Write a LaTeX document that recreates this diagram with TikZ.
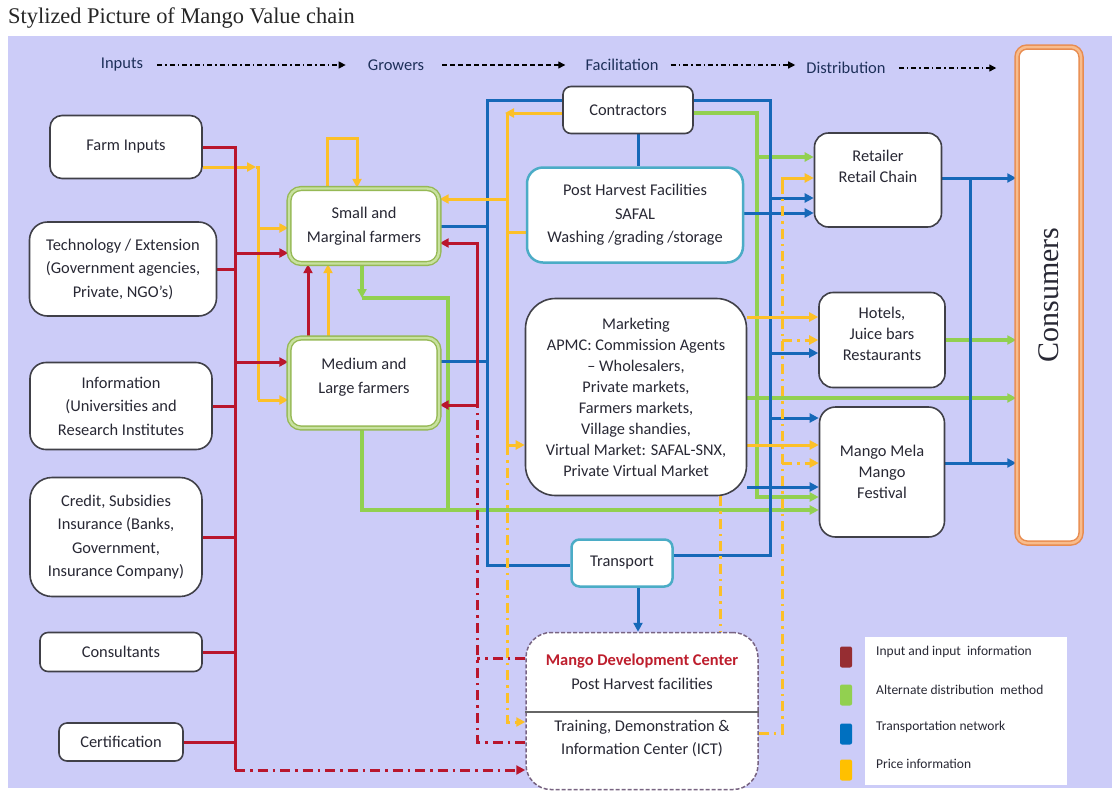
\documentclass[tikz,border=0pt]{standalone}
\usepackage{fontspec}
\setmainfont{Carlito}
\newfontfamily\seriffam{Liberation Serif}
\usetikzlibrary{arrows.meta}
\definecolor{bglav}{RGB}{204,204,248}
\definecolor{cred}{RGB}{185,22,45}
\definecolor{cgreen}{RGB}{146,208,80}
\definecolor{cblue}{RGB}{22,104,184}
\definecolor{cyel}{RGB}{252,192,40}
\definecolor{txt}{RGB}{40,40,52}
\definecolor{bord}{RGB}{64,64,72}
\definecolor{cteal}{RGB}{75,172,198}
\definecolor{farmg}{RGB}{150,185,85}
\definecolor{farmgl}{RGB}{200,225,160}
\definecolor{corange}{RGB}{232,140,80}
\definecolor{corangel}{RGB}{248,188,140}
\definecolor{navy}{RGB}{30,48,90}
\definecolor{mdcb}{RGB}{120,100,130}
\definecolor{mdcred}{RGB}{190,30,45}
\definecolor{legred}{RGB}{150,45,50}
\definecolor{legblue}{RGB}{0,112,192}
\definecolor{legyel}{RGB}{255,192,0}
\pgfdeclarelayer{back}
\pgfdeclarelayer{lines}
\pgfsetlayers{back,lines,main}
\begin{document}
\begin{tikzpicture}[x=1pt,y=-1pt,
  box/.style={draw=bord, line width=1.6pt, fill=white, rounded corners=12pt, align=center, text=txt, font=\fontsize{16.4}{23.5}\selectfont, inner sep=0pt},
  farmer/.style={box, draw=farmg, double=farmgl, line width=1.4pt, double distance=2.4pt},
  tealbox/.style={box, draw=cteal, line width=2.5pt},
  plain/.style={align=center, text=txt, inner sep=0pt},
  hdr/.style={text=navy, font=\fontsize{16.5}{19}\selectfont, inner sep=0pt},
  harr/.style={line width=1.3pt, -{Triangle[length=7pt,width=7pt]}},
  rl/.style={cred, line width=3pt},
  gl/.style={cgreen, line width=3.5pt},
  bl/.style={cblue, line width=3pt},
  yl/.style={cyel, line width=3pt},
  arr/.style={-{Triangle[length=9pt,width=9pt]}},
  dd/.style={dash pattern=on 10pt off 5pt on 2.5pt off 5pt},
  legtxt/.style={anchor=west, text=txt, font=\fontsize{13.5}{15}\selectfont, inner sep=0pt},
  sw/.style={rounded corners=2pt, minimum width=12pt, minimum height=21pt, inner sep=0pt}
]
\useasboundingbox (0,0) rectangle (1118,796);
\begin{pgfonlayer}{back}
\fill[white] (0,0) rectangle (1118,796);
\fill[bglav] (8,36) rectangle (1112,788);
\end{pgfonlayer}

% title
\node[anchor=west, font=\seriffam\fontsize{22.4}{25}\selectfont, text=black!85, inner sep=0pt] (title) at (8,18) {Stylized Picture of Mango Value chain};

% header
\node[hdr] (hin) at (122,65) {Inputs};
\node[hdr] (hgr) at (396,65) {Growers};
\node[hdr] (hfa) at (622,65) {Facilitation};
\node[hdr] (hdi) at (846,68) {Distribution};

% left column
\node[box, minimum width=152pt, minimum height=63pt] (farm) at (126,147) {Farm Inputs};
\node[box, rounded corners=18pt, minimum width=187pt, minimum height=94pt] (tech) at (123,269) {Technology / Extension\\(Government agencies,\\Private, NGO’s)};
\node[box, rounded corners=16pt, minimum width=182pt, minimum height=87pt] (info) at (121,406) {Information\\(Universities and\\Research Institutes};
\node[box, rounded corners=22pt, minimum width=172pt, minimum height=119pt] (credit) at (116,537) {Credit, Subsidies\\Insurance (Banks,\\Government,\\Insurance Company)};
\node[box, rounded corners=8pt, minimum width=162pt, minimum height=39pt] (consult) at (121,652) {Consultants};
\node[box, rounded corners=8pt, minimum width=124pt, minimum height=38pt] (cert) at (121,742) {Certification};

% growers
\node[farmer, minimum width=150pt, minimum height=75pt] (small) at (364,226) {Small and\\Marginal farmers};
\node[farmer, minimum width=150pt, minimum height=90pt] (medium) at (364,383) {};
\node[plain, font=\fontsize{16.4}{23.5}\selectfont] (mediumt) at (364,377) {Medium and\\Large farmers};

% facilitation
\node[box, rounded corners=8pt, minimum width=130pt, minimum height=47pt] (contr) at (628,110) {Contractors};
\node[tealbox, rounded corners=16pt, minimum width=216pt, minimum height=95pt] (ph) at (635,215) {Post Harvest Facilities\\SAFAL\\Washing /grading /storage};
\node[box, rounded corners=30pt, minimum width=221pt, minimum height=197pt, font=\fontsize{16.3}{21}\selectfont] (mkt) at (636,397) {Marketing\\APMC: Commission Agents\\– Wholesalers,\\Private markets,\\Farmers markets,\\Village shandies,\\Virtual Market: SAFAL-SNX,\\Private Virtual Market};
\node[tealbox, rounded corners=8pt, minimum width=101pt, minimum height=47pt] (trans) at (622,563) {Transport};
\node[box, draw=mdcb, line width=1.5pt, dash pattern=on 4pt off 2pt, rounded corners=25pt, minimum width=232pt, minimum height=157pt] (mdc) at (642,711) {};
\draw[black!60, line width=1.2pt] (mdc.west |- 0,712) -- (mdc.east |- 0,712);
\node[plain, font=\fontsize{16.4}{24}\selectfont] (mdct1) at (642,672) {\textcolor{mdcred}{\bfseries Mango Development Center}\\Post Harvest facilities};
\node[plain, font=\fontsize{16.4}{23}\selectfont] (mdct2) at (642,738) {Training, Demonstration \&\\Information Center (ICT)};

% distribution
\node[box, rounded corners=14pt, minimum width=127pt, minimum height=94pt] (retail) at (878,180) {};
\node[plain, font=\fontsize{16.4}{21}\selectfont] (retailt) at (878,166) {Retailer\\Retail Chain};
\node[box, rounded corners=14pt, minimum width=126pt, minimum height=95pt] (hotels) at (882,340) {};
\node[plain, font=\fontsize{16.4}{21}\selectfont] (hotelst) at (882,334) {Hotels,\\Juice bars\\Restaurants};
\node[box, rounded corners=16pt, minimum width=125pt, minimum height=130pt, font=\fontsize{16.4}{21}\selectfont] (mango) at (882,472) {Mango Mela\\Mango\\Festival};

% consumers
\node[draw=corange, double=corangel, line width=1.5pt, double distance=2.5pt, fill=white, rounded corners=10pt, rotate=90, minimum width=496pt, minimum height=64pt, inner sep=0pt, text=txt, font=\seriffam\fontsize{30}{34}\selectfont] (cons) at (1049,295) {Consumers};

% legend
\node[fill=white, minimum width=202pt, minimum height=148pt, inner sep=0pt] (leg) at (966,711) {};
\node[sw, fill=legred] (s1) at (846,657) {};
\node[sw, fill=cgreen] (s2) at (846,695) {};
\node[sw, fill=legblue] (s3) at (846,734) {};
\node[sw, fill=legyel] (s4) at (846,770) {};
\node[legtxt] (l1) at (876,652) {Input and input\ \ information};
\node[legtxt] (l2) at (876,690) {Alternate distribution\ \ method};
\node[legtxt] (l3) at (876,727) {Transportation network};
\node[legtxt] (l4) at (876,764) {Price information};

% header arrows
\draw[harr, dash pattern=on 5pt off 3pt on 1.5pt off 3pt, shorten <=14pt, shorten >=22pt] (hin.east) -- (hgr.west);
\draw[harr, dash pattern=on 5pt off 3pt, shorten <=18pt, shorten >=20pt] (hgr.east) -- (hfa.west |- hgr.east);
\draw[harr, dash pattern=on 5pt off 3pt on 1.5pt off 3pt, shorten <=12pt, shorten >=11pt] (hfa.east) -- (hdi.west |- hfa.east);
\draw[harr, dash pattern=on 5pt off 3pt on 1.5pt off 3pt, shorten <=13pt, shorten >=20pt] (hdi.east) -- (cons.north |- hdi.east);

\begin{pgfonlayer}{lines}
% green
\draw[gl, arr] (small.south -| 362,0) -- (362,298);
\draw[gl] (362,298) -- (448,298) -- (448,510);
\draw[gl, arr] (medium.south -| 362,0) -- (362,510) -- (mango.west |- 0,510);
\draw[gl, arr] (contr.east |- 0,113) -- (757,113) -- (757,497) -- (mango.west |- 0,497);
\draw[gl, arr] (757,157) -- (retail.west |- 0,157);
\draw[gl, arr] (mkt.east |- 0,398) -- (cons.north |- 0,398);
\draw[gl, arr] (hotels.east |- 0,340) -- (cons.north |- 0,340);
% blue
\draw[bl] (small.east |- 0,226) -- (487,226);
\draw[bl] (medium.east |- 0,361) -- (487,361);
\draw[bl] (contr.west |- 0,100) -- (487,100) -- (487,565) -- (trans.west |- 0,565);
\draw[bl] (contr.east |- 0,100) -- (770,100) -- (770,555) -- (trans.east |- 0,555);
\draw[bl] (contr.south -| 638,0) -- (ph.north -| 638,0);
\draw[bl, arr] (770,198) -- (retail.west |- 0,198);
\draw[bl, arr] (ph.east |- 0,213) -- (retail.west |- 0,213);
\draw[bl, arr] (770,353) -- (hotels.west |- 0,353);
\draw[bl, arr] (770,418) -- (mango.west |- 0,418);
\draw[bl, arr] (mkt.east |- 0,487) -- (mango.west |- 0,487);
\draw[bl, arr] (trans.south -| 638,0) -- (mdc.north -| 638,0);
\draw[bl, arr] (retail.east |- 0,178) -- (cons.north |- 0,178);
\draw[bl] (970,178) -- (970,463);
\draw[bl, arr] (mango.east |- 0,463) -- (cons.north |- 0,463);
% yellow
\draw[yl, arr] (farm.east |- 0,167) -- (256,167);
\draw[yl] (256,167) -- (258,167) -- (258,400);
\draw[yl, arr] (258,228) -- (small.west |- 0,228);
\draw[yl, arr] (258,400) -- (medium.west |- 0,400);
\draw[yl, arr] (small.north -| 327,0) -- (327,138) -- (357,138) -- (small.north -| 357,0);
\draw[yl, arr] (medium.north -| 328,0) -- (small.south -| 328,0);
\draw[yl] (507,113) -- (507,445);
\draw[yl, arr] (contr.west |- 0,113) -- (505,113);
\draw[yl, arr] (507,199) -- (small.east |- 0,199);
\draw[yl] (507,232) -- (ph.west |- 0,232);
\draw[yl, arr] (507,445) -- (mkt.west |- 0,445);
\draw[yl, dd, arr] (507,445) -- (507,722) -- (mdc.west |- 0,722);
\draw[yl, arr] (782,192) -- (782,178) -- (retail.west |- 0,178);
\draw[yl, dd] (mdc.east |- 0,733) -- (782,733) -- (782,192);
\draw[yl, dd, arr] (782,340) -- (hotels.west |- 0,340);
\draw[yl, dd, arr] (782,463) -- (mango.west |- 0,463);
\draw[yl, arr] (mkt.east |- 0,317) -- (hotels.west |- 0,317);
\draw[yl, arr] (mkt.east |- 0,445) -- (mango.west |- 0,445);
\draw[yl, dd] (mkt.south -| 720,0) -- (mdc.north -| 720,0);
% red
\draw[rl] (farm.east |- 0,147) -- (235,147) -- (235,770);
\draw[rl] (tech.east) -- (tech.east -| 235,0);
\draw[rl] (info.east) -- (info.east -| 235,0);
\draw[rl] (credit.east) -- (credit.east -| 235,0);
\draw[rl] (consult.east) -- (consult.east -| 235,0);
\draw[rl] (cert.east) -- (cert.east -| 235,0);
\draw[rl, dd, arr] (235,770) -- (mdc.west |- 0,770);
\draw[rl, arr] (235,253) -- (small.west |- 0,253);
\draw[rl, arr] (235,362) -- (medium.west |- 0,362);
\draw[rl, arr] (medium.north -| 308,0) -- (small.south -| 308,0);
\draw[rl, arr] (477,405) -- (477,243) -- (small.east |- 0,243);
\draw[rl, arr] (477,405) -- (medium.east |- 0,405);
\draw[rl, dd] (mdc.west |- 0,742) -- (477,742) -- (477,405);
\draw[rl, dd] (mdc.west |- 0,658) -- (477,658);
\end{pgfonlayer}
\end{tikzpicture}
\end{document}
